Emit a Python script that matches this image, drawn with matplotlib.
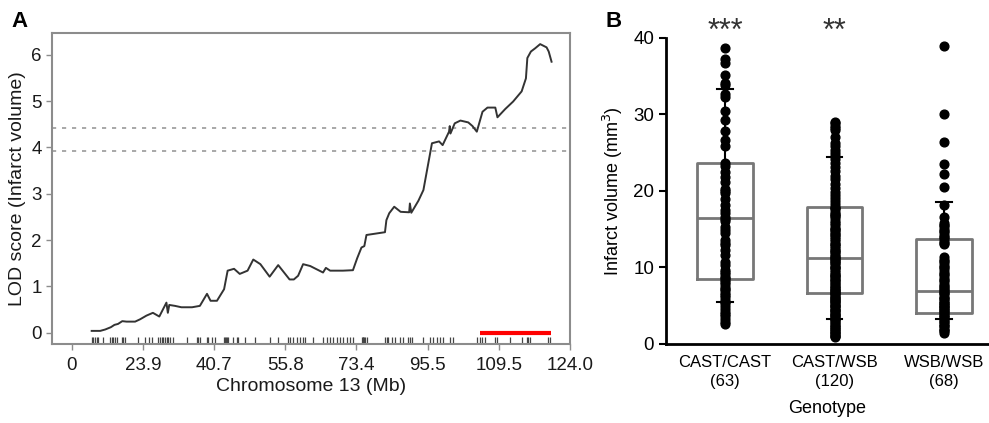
import numpy as np
import matplotlib
matplotlib.use("Agg")
import matplotlib.pyplot as plt

plt.rcParams['font.family'] = ['Liberation Sans', 'DejaVu Sans']

# ---------------- panel A data (x in map units 0..70, labelled in Mb)
tick_pos = [0, 10, 20, 30, 40, 50, 60, 70]
tick_mb = ['0', '23.9', '40.7', '55.8', '73.4', '95.5', '109.5', '124.0']

lod_x = [2.8, 4.0, 4.7, 5.5, 6.0, 6.5, 7.1, 7.7, 8.9, 9.6, 10.5, 11.4, 12.3, 13.3, 13.5, 13.7,
         14.5, 15.4, 16.9, 18.0, 19.0, 19.5, 20.4, 21.4, 21.9, 22.8, 23.6, 24.7, 25.5, 26.5,
         27.8, 29.0, 30.6, 31.2, 31.8, 32.5, 33.5, 34.4, 35.3, 35.7, 36.3, 38.1, 39.5, 40.1,
         40.7, 41.1, 41.4, 44.0, 44.2, 44.6, 45.3, 46.2, 47.4, 47.5, 47.7, 48.7, 49.4, 50.6,
         51.6, 52.1, 53.0, 53.1, 53.2, 53.8, 54.6, 55.7, 56.3, 56.9, 57.7, 58.4, 59.5, 59.8,
         60.9, 62.0, 63.2, 63.8, 64.0, 64.5, 65.1, 65.8, 66.7, 67.0, 67.4]
lod_y = [0.04, 0.04, 0.07, 0.12, 0.17, 0.19, 0.25, 0.24, 0.24, 0.29, 0.37, 0.43, 0.35, 0.65, 0.43, 0.60,
         0.58, 0.55, 0.55, 0.58, 0.84, 0.69, 0.69, 0.94, 1.34, 1.38, 1.27, 1.34, 1.58, 1.48,
         1.21, 1.46, 1.15, 1.15, 1.23, 1.48, 1.44, 1.37, 1.30, 1.40, 1.34, 1.34, 1.35, 1.61,
         1.84, 1.87, 2.11, 2.17, 2.43, 2.58, 2.72, 2.61, 2.60, 2.79, 2.59, 2.85, 3.08, 4.09,
         4.13, 4.05, 4.34, 4.46, 4.30, 4.52, 4.58, 4.54, 4.46, 4.34, 4.77, 4.86, 4.86, 4.65,
         4.83, 4.99, 5.21, 5.49, 5.93, 6.07, 6.14, 6.23, 6.16, 6.07, 5.85]

thresholds = [4.43, 3.93]
ci_interval = [57.35, 67.3]

markers = [2.81, 3.03, 3.27, 3.51, 3.74, 4.44, 5.38, 5.62, 5.84, 6.08, 6.32, 7.02, 7.25, 7.49,
           9.35, 10.29, 10.86, 11.24, 12.16, 12.40, 12.64, 12.87, 13.10, 13.34, 13.57, 13.81,
           14.27, 16.15, 17.56, 17.78, 18.02, 18.96, 19.19, 19.66, 20.13, 21.43, 21.53, 21.63,
           21.77, 21.91, 22.70, 23.17, 23.40, 24.34, 25.74, 27.85, 29.02, 30.42, 30.66, 31.12,
           31.60, 32.06, 32.53, 32.77, 33.93, 35.34, 35.81, 36.28, 36.74, 37.22, 37.68, 38.15,
           38.62, 39.09, 39.55, 40.73, 40.87, 40.96, 41.10, 41.24, 41.43, 44.00, 44.24, 44.47,
           44.94, 45.41, 46.11, 46.57, 47.28, 47.51, 47.75, 49.38, 50.32, 50.79, 51.26, 51.73,
           52.19, 53.13, 53.60, 56.88, 57.35, 57.58, 58.05, 59.45, 59.69, 61.56, 63.20, 63.90,
           64.13, 64.37, 66.94, 67.18]

# ---------------- panel B data
genotypes = ['CAST/CAST\n(63)', 'CAST/WSB\n(120)', 'WSB/WSB\n(68)']
stars = ['***', '**', '']

cast_cast = [38.6, 37.2, 36.7, 35.1, 34.1, 33.8, 32.6, 32.3, 30.4, 29.2, 27.8, 26.7, 25.8, 23.7,
             23.2, 22.5, 21.8, 21.1, 20.3, 20.0, 19.7, 18.9, 18.1, 17.5, 17.1, 16.6, 16.3, 16.0,
             15.3, 14.9, 14.5, 13.6, 13.2, 12.9, 12.3, 11.6, 10.7, 10.3, 9.7, 9.4, 9.1, 8.8, 8.6,
             8.4, 8.1, 7.8, 7.5, 7.2, 7.0, 6.7, 6.4, 6.1, 5.7, 5.5, 5.3, 4.9, 4.6, 4.2, 3.9, 3.6,
             3.3, 2.9, 2.6]
cast_wsb = [29.0, 28.8, 28.5, 28.2, 27.9, 27.0, 26.3, 25.8, 25.3, 24.9,
            24.5, 24.1, 23.6, 23.1, 22.6, 22.0, 21.5, 20.9, 20.4, 19.9,
            19.5, 19.1, 18.7, 18.3, 17.9, 17.8, 17.6, 17.3, 17.0, 16.9, 16.7, 16.4,
            16.1, 15.8, 15.5, 15.2, 15.0, 14.9, 14.6, 14.3, 14.2, 14.0, 13.7, 13.4,
            13.1, 13.0, 12.8, 12.5, 12.3, 12.2, 12.0, 11.8, 11.5, 11.3, 11.2, 11.1, 10.9,
            10.8, 10.6, 10.4, 10.1, 10.0, 9.9, 9.6, 9.4, 9.2, 9.0, 8.9, 8.7, 8.5, 8.4,
            8.2, 8.0, 7.8, 7.6, 7.5, 7.3, 7.1, 7.0, 6.9, 6.7, 6.6, 6.5, 6.3,
            6.1, 6.0, 5.9, 5.7, 5.6, 5.5, 5.3, 5.1, 5.0, 4.9, 4.7, 4.5, 4.4, 4.3,
            4.1, 3.9, 3.8, 3.7, 3.5, 3.3, 3.2, 3.1, 2.9, 2.7, 2.5, 2.4,
            2.2, 2.0, 1.9, 1.7, 1.6, 1.4, 1.3, 1.1, 1.0, 0.9]
wsb_wsb = [38.9, 30.0, 26.4, 23.5, 22.2, 20.5, 18.1, 16.6, 15.8, 15.6, 15.4, 15.0, 14.8, 14.6,
           14.2, 14.0, 13.8, 13.4, 13.2, 13.0, 11.4, 11.0, 10.8, 10.6, 10.2, 10.0, 9.8, 9.4,
           9.2, 9.0, 8.6, 8.4, 8.2, 7.8, 7.6, 7.4, 7.2, 7.0, 6.8, 6.6, 6.5, 6.2, 6.0, 5.9, 5.6,
           5.4, 5.3, 5.1, 5.0, 4.8, 4.7, 4.5, 4.4, 4.2, 4.1, 3.8, 3.6, 3.5, 3.2, 3.0, 2.9, 2.6,
           2.4, 2.3, 2.0, 1.8, 1.7, 1.4]
volumes = [cast_cast, cast_wsb, wsb_wsb]

q1 = [8.45, 6.6, 4.1]
med = [16.4, 11.2, 6.9]
q3 = [23.6, 17.9, 13.7]
whis_lo = [5.5, 3.2, 3.2]
whis_hi = [33.3, 24.4, 18.6]

fig = plt.figure(figsize=(9.89, 4.23), dpi=100)

# ======================= panel A
axA = fig.add_axes([0.0526, 0.186, 0.5238, 0.736])
grey = '#8c8c8c'
for t in thresholds:
    axA.axhline(t, color='#999999', lw=1.2, ls=(0, (2.5, 3.5)), zorder=1)
axA.plot(lod_x, lod_y, color='#333333', lw=1.4, zorder=3)
axA.vlines(markers, -0.25, -0.095, color='#444444', lw=0.9, zorder=2)
axA.plot(ci_interval, [0, 0], color='#ff0000', lw=3, solid_capstyle='butt', zorder=4)
axA.set_xlim(-2.77, 70)
axA.set_ylim(-0.25, 6.47)
axA.set_xticks(tick_pos)
axA.set_xticklabels(tick_mb)
axA.set_yticks(range(7))
for s in axA.spines.values():
    s.set_color(grey)
    s.set_linewidth(1.5)
axA.tick_params(axis='both', colors=grey, labelcolor='#1a1a1a', labelsize=13.5, length=4, width=1)
axA.tick_params(axis='x', pad=5)
axA.set_xlabel('Chromosome 13 (Mb)', fontsize=14, color='#1a1a1a', labelpad=3)
axA.set_ylabel('LOD score (Infarct volume)', fontsize=14, color='#1a1a1a', labelpad=4)

# ======================= panel B
axB = fig.add_axes([0.6734, 0.1868, 0.3266, 0.724])
pos = np.arange(len(volumes))
stats = []
for i in range(len(volumes)):
    stats.append(dict(med=med[i], q1=q1[i], q3=q3[i], whislo=whis_lo[i], whishi=whis_hi[i], fliers=[]))
axB.bxp(stats, positions=pos, widths=0.51, showfliers=False, capwidths=0.14,
        boxprops=dict(color='#777777', lw=2),
        medianprops=dict(color='#777777', lw=2),
        whiskerprops=dict(color='black', lw=1.5),
        capprops=dict(color='black', lw=1.5))
for i, v in enumerate(volumes):
    axB.plot(np.full(len(v), pos[i]), v, 'o', color='black', ms=6.3, mec='black', zorder=5, clip_on=False)
for i, s in enumerate(stars):
    axB.text(pos[i], 39.7, s, ha='center', va='baseline', fontsize=22, color='#333333')
axB.set_xlim(-0.539, 2.41)
axB.set_ylim(0, 40)
axB.set_yticks([0, 10, 20, 30, 40])
axB.set_xticks(pos)
axB.set_xticklabels(genotypes, fontsize=12, linespacing=1.35)
axB.spines['top'].set_visible(False)
axB.spines['right'].set_visible(False)
axB.spines['left'].set_linewidth(2)
axB.spines['bottom'].set_linewidth(2)
axB.tick_params(axis='y', labelsize=13.5, length=5, width=1.5)
axB.tick_params(axis='x', length=0, pad=8)
axB.set_xlabel('Genotype', fontsize=13, labelpad=8)
axB.set_ylabel('Infarct volume (mm$^3$)', fontsize=13, labelpad=6)

fig.text(0.012, 0.925, 'A', fontsize=16, fontweight='bold', va='bottom')
fig.text(0.612, 0.925, 'B', fontsize=16, fontweight='bold', va='bottom')

plt.savefig('out.png', dpi=100)
